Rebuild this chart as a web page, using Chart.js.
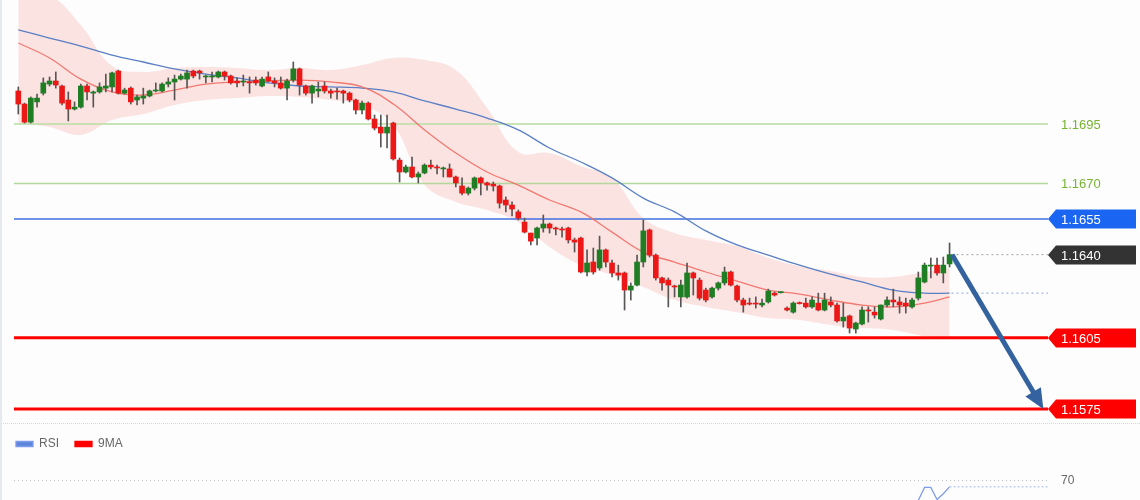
<!DOCTYPE html>
<html>
<head>
<meta charset="utf-8">
<script src="https://cdn.jsdelivr.net/npm/chart.js@4.4.0/dist/chart.umd.min.js"></script>
<style>
  html, body { margin: 0; padding: 0; background: #fcfdfc; }
  #wrap { position: relative; width: 1140px; height: 500px; overflow: hidden; }
  #main { position: absolute; left: 0; top: 0; }
  #rsi { position: absolute; left: 0; top: 422px; }
  #sep { position: absolute; left: 0; top: 423px; width: 1140px; border-top: 1px dotted #d5d8dc; }
  #edge { position: absolute; left: 0; top: 0; width: 2px; height: 500px; background: #e6eaef; }
</style>
</head>
<body>
<div id="wrap">
  <canvas id="main" width="1140" height="420"></canvas>
  <div id="sep"></div>
  <canvas id="rsi" width="1140" height="78"></canvas>
  <div id="edge"></div>
</div>
<script>
// candles, one per period (index 0 = oldest)
const open = [
  1.17089,1.17034,1.16958,1.17043,1.17080,1.17118,1.17131,1.17110,1.17051,1.17013,
  1.17021,1.17110,1.17080,1.17085,1.17101,1.17106,1.17173,1.17080,1.17101,1.17051,
  1.17059,1.17068,1.17089,1.17089,1.17118,1.17127,1.17139,1.17139,1.17173,1.17173,
  1.17148,1.17148,1.17148,1.17169,1.17152,1.17131,1.17127,1.17127,1.17135,1.17110,
  1.17148,1.17131,1.17123,1.17101,1.17135,1.17182,1.17110,1.17080,1.17089,1.17110,
  1.17089,1.17089,1.17089,1.17080,1.17051,1.17009,1.17038,1.16971,1.16937,1.16912,
  1.16954,1.16798,1.16748,1.16769,1.16727,1.16744,1.16777,1.16769,1.16761,1.16761,
  1.16727,1.16689,1.16659,1.16680,1.16723,1.16702,1.16697,1.16689,1.16630,1.16609,
  1.16580,1.16537,1.16491,1.16470,1.16512,1.16529,1.16512,1.16508,1.16512,1.16462,
  1.16470,1.16327,1.16369,1.16344,1.16420,1.16365,1.16323,1.16323,1.16251,1.16272,
  1.16369,1.16504,1.16398,1.16302,1.16293,1.16268,1.16222,1.16222,1.16323,1.16293,
  1.16251,1.16222,1.16259,1.16281,1.16327,1.16268,1.16209,1.16196,1.16196,1.16188,
  1.16201,1.16238,1.16240,1.16175,1.16158,1.16196,1.16196,1.16180,1.16196,1.16167,
  1.16201,1.16188,1.16121,1.16142,1.16087,1.16108,1.16167,1.16158,1.16129,1.16188,
  1.16209,1.16201,1.16196,1.16180,1.16217,1.16285,1.16352,1.16356,1.16323,1.16361
];
const high = [
  1.17106,1.17038,1.17064,1.17076,1.17144,1.17148,1.17169,1.17114,1.17085,1.17043,
  1.17118,1.17118,1.17089,1.17123,1.17160,1.17169,1.17177,1.17101,1.17106,1.17072,
  1.17101,1.17093,1.17123,1.17123,1.17144,1.17156,1.17160,1.17177,1.17177,1.17177,
  1.17156,1.17169,1.17173,1.17173,1.17156,1.17144,1.17156,1.17148,1.17148,1.17148,
  1.17169,1.17144,1.17148,1.17139,1.17211,1.17186,1.17114,1.17114,1.17127,1.17127,
  1.17097,1.17101,1.17093,1.17085,1.17055,1.17047,1.17043,1.16988,1.16988,1.16988,
  1.16958,1.16807,1.16777,1.16811,1.16748,1.16782,1.16798,1.16777,1.16769,1.16782,
  1.16731,1.16723,1.16685,1.16727,1.16727,1.16706,1.16706,1.16693,1.16643,1.16622,
  1.16588,1.16554,1.16491,1.16516,1.16567,1.16533,1.16516,1.16516,1.16516,1.16470,
  1.16474,1.16420,1.16428,1.16478,1.16424,1.16377,1.16356,1.16327,1.16281,1.16398,
  1.16546,1.16508,1.16403,1.16306,1.16302,1.16272,1.16293,1.16365,1.16327,1.16302,
  1.16259,1.16264,1.16285,1.16348,1.16331,1.16272,1.16217,1.16217,1.16222,1.16213,
  1.16255,1.16243,1.16243,1.16180,1.16201,1.16201,1.16217,1.16222,1.16238,1.16238,
  1.16222,1.16196,1.16196,1.16146,1.16116,1.16180,1.16180,1.16180,1.16188,1.16222,
  1.16255,1.16222,1.16217,1.16217,1.16327,1.16365,1.16386,1.16386,1.16390,1.16449
];
const low = [
  1.16992,1.16954,1.16954,1.17021,1.17072,1.17110,1.17101,1.17030,1.16963,1.17009,
  1.17017,1.17051,1.17021,1.17080,1.17085,1.17085,1.17076,1.17076,1.17034,1.17030,
  1.17034,1.17064,1.17085,1.17085,1.17106,1.17051,1.17135,1.17101,1.17144,1.17139,
  1.17123,1.17127,1.17144,1.17135,1.17118,1.17106,1.17110,1.17080,1.17114,1.17106,
  1.17127,1.17106,1.17097,1.17051,1.17127,1.17072,1.17072,1.17038,1.17064,1.17080,
  1.17059,1.17055,1.17038,1.17043,1.16992,1.16992,1.16967,1.16925,1.16853,1.16849,
  1.16798,1.16706,1.16744,1.16723,1.16702,1.16740,1.16761,1.16740,1.16727,1.16727,
  1.16685,1.16651,1.16651,1.16672,1.16651,1.16672,1.16668,1.16596,1.16580,1.16563,
  1.16546,1.16491,1.16441,1.16441,1.16495,1.16491,1.16483,1.16474,1.16449,1.16411,
  1.16323,1.16310,1.16318,1.16335,1.16348,1.16306,1.16293,1.16167,1.16209,1.16268,
  1.16348,1.16390,1.16293,1.16251,1.16180,1.16222,1.16180,1.16217,1.16230,1.16209,
  1.16201,1.16217,1.16251,1.16272,1.16268,1.16201,1.16158,1.16188,1.16175,1.16180,
  1.16196,1.16226,1.16238,1.16163,1.16154,1.16192,1.16175,1.16175,1.16163,1.16163,
  1.16180,1.16116,1.16095,1.16070,1.16070,1.16104,1.16116,1.16133,1.16125,1.16180,
  1.16180,1.16154,1.16154,1.16175,1.16209,1.16281,1.16302,1.16314,1.16281,1.16348
];
const close = [
  1.17034,1.16958,1.17059,1.17059,1.17123,1.17131,1.17114,1.17038,1.17013,1.17021,
  1.17110,1.17085,1.17085,1.17106,1.17110,1.17165,1.17080,1.17093,1.17043,1.17064,
  1.17068,1.17089,1.17093,1.17118,1.17127,1.17139,1.17152,1.17165,1.17152,1.17165,
  1.17152,1.17152,1.17169,1.17152,1.17123,1.17123,1.17131,1.17123,1.17123,1.17139,
  1.17131,1.17123,1.17101,1.17131,1.17182,1.17114,1.17080,1.17110,1.17097,1.17089,
  1.17080,1.17085,1.17080,1.17051,1.17009,1.17038,1.16971,1.16933,1.16912,1.16937,
  1.16803,1.16748,1.16769,1.16727,1.16740,1.16777,1.16769,1.16765,1.16765,1.16727,
  1.16702,1.16659,1.16680,1.16723,1.16702,1.16693,1.16689,1.16617,1.16609,1.16592,
  1.16554,1.16495,1.16457,1.16512,1.16529,1.16512,1.16508,1.16504,1.16462,1.16453,
  1.16327,1.16365,1.16327,1.16420,1.16369,1.16323,1.16314,1.16251,1.16268,1.16369,
  1.16500,1.16398,1.16302,1.16281,1.16272,1.16264,1.16272,1.16323,1.16302,1.16217,
  1.16209,1.16259,1.16281,1.16327,1.16272,1.16209,1.16188,1.16192,1.16192,1.16196,
  1.16247,1.16230,1.16243,1.16167,1.16196,1.16194,1.16180,1.16209,1.16167,1.16209,
  1.16188,1.16121,1.16137,1.16091,1.16112,1.16167,1.16163,1.16146,1.16188,1.16209,
  1.16201,1.16188,1.16184,1.16209,1.16302,1.16356,1.16356,1.16323,1.16356,1.16400
];

// indicator lines, read every 5 candles
const sampleX = [0,5,10,15,20,25,30,35,40,45,50,55,60,65,70,75,80,85,90,95,100,105,110,115,120,125,130,135,140,145,149];
const maFast = [1.17291,1.17228,1.17139,1.17085,1.17072,1.17093,1.17118,1.17127,1.17131,1.17135,1.17127,1.17106,1.17034,1.16925,1.16828,1.16748,1.16693,1.16630,1.16580,1.16495,1.16411,1.16369,1.16327,1.16289,1.16251,1.16234,1.16209,1.16188,1.16180,1.16196,1.16222];
const maSlow = [1.17346,1.17312,1.17278,1.17240,1.17211,1.17182,1.17160,1.17144,1.17123,1.17110,1.17106,1.17101,1.17085,1.17047,1.17013,1.16975,1.16925,1.16849,1.16790,1.16723,1.16638,1.16580,1.16500,1.16441,1.16398,1.16356,1.16318,1.16285,1.16251,1.16238,1.16238];
const bandUpper = [1.17514,1.17493,1.17367,1.17194,1.17169,1.17186,1.17190,1.17186,1.17177,1.17186,1.17177,1.17198,1.17228,1.17219,1.17177,1.17017,1.16832,1.16828,1.16773,1.16723,1.16554,1.16491,1.16462,1.16436,1.16386,1.16352,1.16331,1.16306,1.16306,1.16327,1.16344];
const bandLower = [1.16954,1.16937,1.16904,1.16967,1.16992,1.17030,1.17051,1.17059,1.17068,1.17064,1.17051,1.17030,1.16946,1.16693,1.16622,1.16588,1.16537,1.16432,1.16356,1.16314,1.16264,1.16209,1.16180,1.16158,1.16133,1.16125,1.16104,1.16091,1.16083,1.16057,1.16049];

// price levels on the right
const levelValues = [1.1695, 1.1670, 1.1655, 1.1640, 1.1605, 1.1575];
const levelLabels = ['1.1695', '1.1670', '1.1655', '1.1640', '1.1605', '1.1575'];

// projected move
const arrowX = [149.4, 164];
const arrowY = [1.1640, 1.1575];

// RSI panel
const rsiX = [143, 144, 145, 146, 147, 148, 149];
const rsiValues = [50, 56.5, 65.3, 65.3, 57, 61, 65.7];
const rsiLevel = 70;

const FONT = 'Arial, "Liberation Sans", sans-serif';
Chart.defaults.font.family = FONT;

const xMin = -2.928, xMax = 179.47;
const lineStart = -0.69, tagX = 164.75, lastX = 149.3;

const levelStyles = [
  { line: '#b8dca0', width: 1.5, text: '#78b432' },
  { line: '#b3d69a', width: 1.5, text: '#78b432' },
  { line: '#3f6fe0', width: 1.5, tag: '#1a66f2' },
  { line: '#a0a0a0', width: 1, dash: [2, 3], start: lastX, tag: '#333333' },
  { line: '#ff0000', width: 3, tag: '#ff0000' },
  { line: '#ff0000', width: 3, tag: '#ff0000' }
];

const idx = open.map((_, i) => i);
const pts = (xs, ys) => xs.map((x, k) => ({ x: x, y: ys[k] }));

const levelSets = levelValues.map((v, k) => {
  const st = levelStyles[k];
  return {
    type: 'line',
    data: [{ x: st.start !== undefined ? st.start : lineStart, y: v }, { x: tagX, y: v }],
    borderColor: st.line,
    borderWidth: st.width,
    borderDash: st.dash || [],
    pointRadius: 0,
    order: 5
  };
});

const levelTags = {
  id: 'levelTags',
  afterDraw(chart) {
    const { ctx, scales: { x, y } } = chart;
    const x0 = x.getPixelForValue(tagX);
    ctx.save();

    // arrow
    const ax0 = x.getPixelForValue(arrowX[0]), ay0 = y.getPixelForValue(arrowY[0]);
    const ax1 = x.getPixelForValue(arrowX[1]), ay1 = y.getPixelForValue(arrowY[1]);
    const ang = Math.atan2(ay1 - ay0, ax1 - ax0);
    const headLen = 20, headW = 9;
    const bx = ax1 - Math.cos(ang) * (headLen - 2), by = ay1 - Math.sin(ang) * (headLen - 2);
    ctx.strokeStyle = '#33629f';
    ctx.fillStyle = '#33629f';
    ctx.lineWidth = 5;
    ctx.beginPath();
    ctx.moveTo(ax0, ay0);
    ctx.lineTo(bx, by);
    ctx.stroke();
    ctx.beginPath();
    ctx.moveTo(ax1, ay1);
    ctx.lineTo(ax1 - Math.cos(ang) * headLen - Math.sin(ang) * headW, ay1 - Math.sin(ang) * headLen + Math.cos(ang) * headW);
    ctx.lineTo(ax1 - Math.cos(ang) * headLen + Math.sin(ang) * headW, ay1 - Math.sin(ang) * headLen - Math.cos(ang) * headW);
    ctx.closePath();
    ctx.fill();

    // tags
    ctx.font = '13px ' + FONT;
    ctx.textBaseline = 'middle';
    levelValues.forEach((v, k) => {
      const py = Math.round(y.getPixelForValue(v));
      const st = levelStyles[k];
      if (st.tag) {
        ctx.fillStyle = st.tag;
        ctx.beginPath();
        ctx.moveTo(x0, py);
        ctx.lineTo(x0 + 8, py - 9.5);
        ctx.lineTo(x0 + 88, py - 9.5);
        ctx.lineTo(x0 + 88, py + 9.5);
        ctx.lineTo(x0 + 8, py + 9.5);
        ctx.closePath();
        ctx.fill();
        ctx.fillStyle = '#ffffff';
      } else {
        ctx.fillStyle = st.text;
      }
      ctx.fillText(levelLabels[k], x0 + 13, py + 1);
    });
    ctx.restore();
  }
};

new Chart(document.getElementById('main'), {
  type: 'bar',
  data: {
    datasets: [
      {
        label: 'wick',
        data: idx.map(i => ({ x: i, y: [low[i], high[i]] })),
        backgroundColor: '#5a5555',
        barThickness: 1,
        grouped: false,
        order: 1
      },
      {
        label: 'body',
        data: idx.map(i => ({ x: i, y: [open[i], close[i]] })),
        backgroundColor: ctx => close[ctx.dataIndex] >= open[ctx.dataIndex] ? '#1f7d24' : '#ec1818',
        barThickness: 5,
        minBarLength: 1,
        grouped: false,
        order: 0
      },
      {
        type: 'line',
        label: 'maFast',
        data: pts(sampleX, maFast),
        borderColor: 'rgba(240,110,100,0.9)',
        borderWidth: 1.3,
        pointRadius: 0,
        tension: 0.4,
        order: 3
      },
      {
        type: 'line',
        label: 'maSlow',
        data: pts(sampleX, maSlow),
        borderColor: '#5a7fc4',
        borderWidth: 1.3,
        pointRadius: 0,
        tension: 0.4,
        order: 4
      },
      {
        type: 'line',
        label: 'upper',
        data: pts(sampleX, bandUpper),
        borderWidth: 0,
        borderColor: 'rgba(0,0,0,0)',
        backgroundColor: 'rgba(245,40,40,0.12)',
        fill: '+1',
        pointRadius: 0,
        tension: 0.4,
        order: 9
      },
      {
        type: 'line',
        label: 'lower',
        data: pts(sampleX, bandLower),
        borderWidth: 0,
        borderColor: 'rgba(0,0,0,0)',
        pointRadius: 0,
        tension: 0.4,
        order: 9
      },
      {
        type: 'line',
        label: 'slowLast',
        data: [{ x: lastX, y: maSlow[maSlow.length - 1] }, { x: tagX, y: maSlow[maSlow.length - 1] }],
        borderColor: 'rgba(110,145,215,0.8)',
        borderWidth: 1,
        borderDash: [2, 3],
        pointRadius: 0,
        order: 5
      },
      ...levelSets
    ]
  },
  options: {
    responsive: false,
    animation: false,
    layout: { padding: 0 },
    plugins: { legend: { display: false }, tooltip: { enabled: false } },
    scales: {
      x: { type: 'linear', display: false, min: xMin, max: xMax, offset: false, grid: { display: false } },
      y: { display: false, min: 1.15704, max: 1.17472 }
    }
  },
  plugins: [levelTags]
});

const rsiLabel = {
  id: 'rsiLabel',
  afterDraw(chart) {
    const { ctx, scales: { x, y } } = chart;
    ctx.save();
    ctx.font = '12px ' + FONT;
    ctx.fillStyle = '#666666';
    ctx.textBaseline = 'middle';
    ctx.fillText(String(rsiLevel), x.getPixelForValue(tagX) + 13, y.getPixelForValue(rsiLevel));
    ctx.restore();
  }
};

new Chart(document.getElementById('rsi'), {
  type: 'line',
  data: {
    datasets: [
      {
        label: 'RSI',
        data: pts(rsiX, rsiValues),
        borderColor: '#7e9ceb',
        backgroundColor: '#5b86dc',
        borderWidth: 1.3,
        pointRadius: 0
      },
      {
        label: '9MA',
        data: [],
        borderColor: '#ff0000',
        backgroundColor: '#ff0000',
        borderWidth: 1.3,
        pointRadius: 0
      },
      {
        label: 'level',
        data: [{ x: lineStart, y: rsiLevel }, { x: tagX, y: rsiLevel }],
        borderColor: '#b9bcc0',
        borderWidth: 1,
        borderDash: [1, 3],
        pointRadius: 0
      },
      {
        label: 'last',
        data: [{ x: rsiX[rsiX.length - 1], y: rsiValues[rsiValues.length - 1] }, { x: tagX, y: rsiValues[rsiValues.length - 1] }],
        borderColor: '#a8bcea',
        borderWidth: 1,
        borderDash: [2, 2],
        pointRadius: 0
      }
    ]
  },
  options: {
    responsive: false,
    animation: false,
    layout: { padding: 0 },
    plugins: {
      tooltip: { enabled: false },
      legend: {
        position: 'top',
        align: 'start',
        labels: {
          boxWidth: 17,
          boxHeight: 5,
          padding: 16,
          color: '#666666',
          font: { size: 12 },
          filter: item => item.text === 'RSI' || item.text === '9MA'
        }
      }
    },
    scales: {
      x: { type: 'linear', display: false, min: xMin, max: xMax },
      y: { display: false, min: 56.67, max: 84.13 }
    }
  },
  plugins: [rsiLabel]
});
</script>
</body>
</html>
